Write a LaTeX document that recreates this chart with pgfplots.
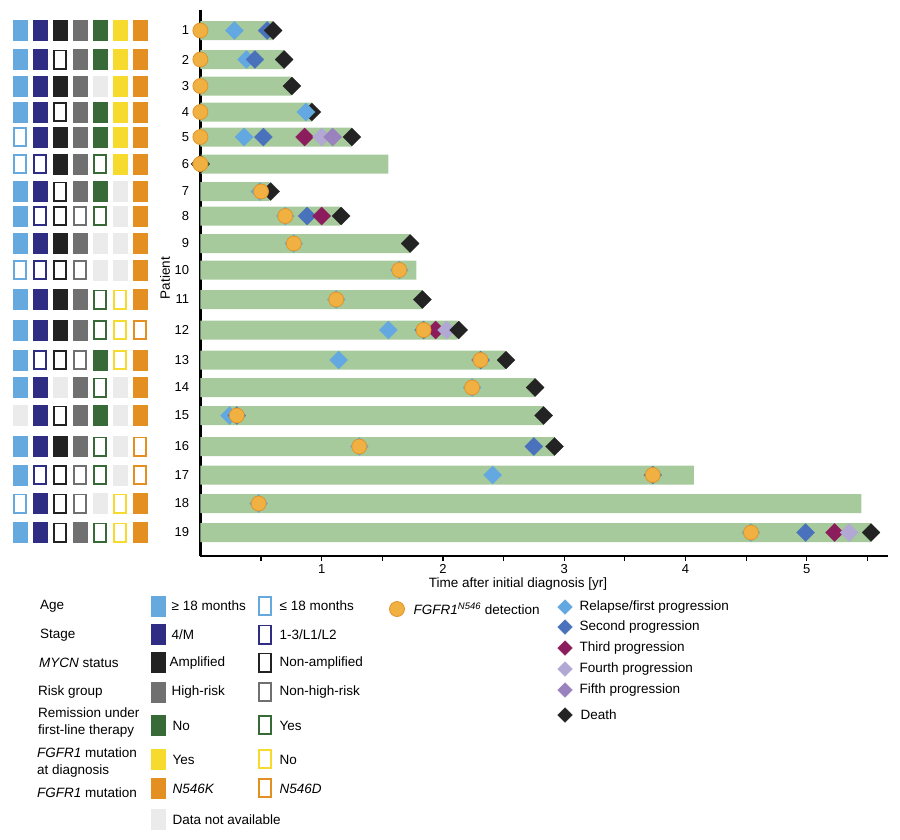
\documentclass[border=0pt]{standalone}
\usepackage{fontspec}
\setmainfont{Liberation Sans}
\usepackage{pgfplots}
\pgfplotsset{compat=1.18}

\definecolor{cAge}{HTML}{66A9DF}
\definecolor{cStage}{HTML}{2E2D83}
\definecolor{cMycn}{HTML}{222222}
\definecolor{cRisk}{HTML}{707070}
\definecolor{cRem}{HTML}{386A37}
\definecolor{cDx}{HTML}{F6DA2E}
\definecolor{cMut}{HTML}{E38F22}
\definecolor{cNA}{HTML}{EBEBEB}
\definecolor{cBar}{HTML}{A6CA9C}
\definecolor{cRel}{HTML}{63A8E0}
\definecolor{cSec}{HTML}{4A72BC}
\definecolor{cThi}{HTML}{8C1D5C}
\definecolor{cFou}{HTML}{B2A8D4}
\definecolor{cFif}{HTML}{9A82BE}
\definecolor{cDea}{HTML}{232323}
\definecolor{cDet}{HTML}{F0B042}
\definecolor{cDetE}{HTML}{E0952A}

\pgfdeclareplotmark{rectF}{\pgfpathrectangle{\pgfqpoint{-7pt}{-10pt}}{\pgfqpoint{14pt}{20pt}}\pgfusepathqfillstroke}
\pgfdeclareplotmark{rectO}{\pgfpathrectangle{\pgfqpoint{-6.2pt}{-9.2pt}}{\pgfqpoint{12.4pt}{18.4pt}}\pgfusepathqfillstroke}
\pgfdeclareplotmark{dia}{\pgfpathmoveto{\pgfqpoint{0pt}{\pgfplotmarksize}}\pgfpathlineto{\pgfqpoint{\pgfplotmarksize}{0pt}}\pgfpathlineto{\pgfqpoint{0pt}{-\pgfplotmarksize}}\pgfpathlineto{\pgfqpoint{-\pgfplotmarksize}{0pt}}\pgfpathclose\pgfusepathqfillstroke}

\pgfplotsset{
  F/.style={only marks, mark=rectF, mark options={fill=#1, draw=#1, line width=0.3pt}},
  O/.style={only marks, mark=rectO, mark options={fill=white, draw=#1, line width=1.6pt}},
  evt/.style={only marks, mark=dia, mark size=9pt, mark options={fill=#1, draw=#1, line width=0.3pt}},
  levt/.style={only marks, mark=dia, mark size=7.3pt, mark options={fill=#1, draw=#1, line width=0.3pt}},
  det/.style={only marks, mark=*, mark size=7.5pt, mark options={fill=cDet, draw=cDetE, line width=0.8pt}},
}

\begin{document}
\fontsize{13.5}{17}\selectfont
\begin{tikzpicture}[font=\fontsize{13.5}{17}\selectfont]
\useasboundingbox (0pt,0pt) rectangle (900pt,-840pt);

% ---------------- main swimmer axis ----------------
\begin{axis}[
  at={(200.4pt,-10pt)}, anchor=north west, scale only axis,
  width=687.6pt, height=546pt,
  xmin=0, xmax=5.67, ymin=10, ymax=556, y dir=reverse, clip=false,
  axis x line*=bottom, axis y line*=left,
  y axis line style={draw=none},
  x axis line style={line width=1.8pt},
  xtick={1,2,3,4,5}, minor xtick={0.5,1.5,2.5,3.5,4.5,5.5},
  tick align=outside, major tick length=5pt, minor tick length=5pt,
  xtick style={line width=1.2pt, black},
  minor tick style={line width=1.2pt, black},
  ytick={30.5,59.5,86,112,137,164,191.5,216,243.5,270,299.5,330,360,387.5,415.5,446.5,475,503.5,532.5},
  yticklabels={1,2,3,4,5,6,7,8,9,10,11,12,13,14,15,16,17,18,19},
  ytick style={draw=none},
  yticklabel style={xshift=-1.5pt},
  xticklabel style={yshift=1.5pt},
  tick label style={font=\fontsize{13}{16}\selectfont},
  /pgf/number format/assume math mode=true,
]
% y axis line (partly hidden by the bars)
\addplot[black, line width=2.4pt] coordinates {(0,10) (0,556)};
% bars: follow-up time
\addplot[xbar, bar width=19pt, fill=cBar, draw=none] coordinates {
 (0.60,30.5) (0.69,59.5) (0.75,86) (0.92,112) (1.25,137) (1.55,164) (0.57,191.5)
 (1.15,216) (1.73,243.5) (1.78,270) (1.83,299.5) (2.12,330) (2.51,360) (2.76,387.5)
 (2.83,415.5) (2.92,446.5) (4.07,475) (5.45,503.5) (5.53,532.5)};
% white diamond (patient 6)
\addplot[only marks, mark=dia, mark size=9pt, mark options={fill=white, draw=black, line width=0.8pt}] coordinates {(0,164)};
% relapse / first progression
\addplot[evt=cRel] coordinates {
 (0.28,30.5) (0.38,59.5) (0.36,137) (0.49,191.5) (0.70,216) (0.77,243.5)
 (1.64,270) (1.12,299.5) (1.55,330) (1.14,360) (2.24,387.5) (0.24,415.5) (1.31,446.5)
 (2.41,475) (0.48,503.5) (4.54,532.5)};
% second progression
\addplot[evt=cSec] coordinates {
 (0.55,30.5) (0.45,59.5) (0.52,137) (0.88,216) (1.84,330) (2.31,360) (0.30,415.5)
 (2.75,446.5) (3.73,475) (4.99,532.5)};
% third progression
\addplot[evt=cThi] coordinates {(0.86,137) (1.00,216) (1.94,330) (5.23,532.5)};
% fourth progression
\addplot[evt=cFou] coordinates {(1.00,137) (2.03,330) (5.35,532.5)};
% fifth progression
\addplot[evt=cFif] coordinates {(1.09,137)};
% death
\addplot[evt=cDea] coordinates {
 (0.60,30.5) (0.69,59.5) (0.755,86) (0.92,112) (1.25,137) (0.58,191.5) (1.16,216)
 (1.73,243.5) (1.83,299.5) (2.13,330) (2.52,360) (2.76,387.5) (2.83,415.5) (2.92,446.5)
 (5.53,532.5)};
% patient 4 relapse drawn over death
\addplot[evt=cRel] coordinates {(0.87,112)};
% FGFR1 N546 detection
\addplot[det] coordinates {
 (0,30.5) (0,59.5) (0,86) (0,112) (0,137) (0,164) (0.50,191.5) (0.70,216) (0.77,243.5)
 (1.64,270) (1.12,299.5) (1.84,330) (2.31,360) (2.24,387.5) (0.30,415.5) (1.31,446.5)
 (3.73,475) (0.48,503.5) (4.54,532.5)};
\end{axis}

% ---------------- characteristics grid and legends ----------------
\begin{axis}[
  at={(0pt,0pt)}, anchor=north west, scale only axis,
  width=900pt, height=840pt,
  xmin=0, xmax=900, ymin=0, ymax=840, y dir=reverse,
  hide axis, clip=false,
]
% Age (x=20)
\addplot[F=cAge] coordinates {(20,30.5) (20,59.5) (20,86) (20,112) (20,191.5) (20,216) (20,243.5) (20,299.5) (20,330) (20,360) (20,387.5) (20,446.5) (20,475) (20,532.5)};
\addplot[O=cAge] coordinates {(20,137) (20,164) (20,270) (20,503.5)};
% Stage (x=40)
\addplot[F=cStage] coordinates {(40,30.5) (40,59.5) (40,86) (40,112) (40,137) (40,191.5) (40,243.5) (40,299.5) (40,330) (40,387.5) (40,415.5) (40,446.5) (40,503.5) (40,532.5)};
\addplot[O=cStage] coordinates {(40,164) (40,216) (40,270) (40,360) (40,475)};
% MYCN (x=60)
\addplot[F=cMycn] coordinates {(60,30.5) (60,86) (60,137) (60,164) (60,243.5) (60,299.5) (60,330) (60,446.5)};
\addplot[O=cMycn] coordinates {(60,59.5) (60,112) (60,191.5) (60,216) (60,270) (60,360) (60,415.5) (60,475) (60,503.5) (60,532.5)};
% Risk (x=80)
\addplot[F=cRisk] coordinates {(80,30.5) (80,59.5) (80,86) (80,112) (80,137) (80,164) (80,191.5) (80,243.5) (80,299.5) (80,330) (80,387.5) (80,415.5) (80,446.5) (80,532.5)};
\addplot[O=cRisk] coordinates {(80,216) (80,270) (80,360) (80,475) (80,503.5)};
% Remission (x=100)
\addplot[F=cRem] coordinates {(100,30.5) (100,59.5) (100,112) (100,137) (100,191.5) (100,360) (100,415.5)};
\addplot[O=cRem] coordinates {(100,164) (100,216) (100,299.5) (100,330) (100,387.5) (100,446.5) (100,475) (100,532.5)};
% FGFR1 at diagnosis (x=120)
\addplot[F=cDx] coordinates {(120,30.5) (120,59.5) (120,86) (120,112) (120,137) (120,164)};
\addplot[O=cDx] coordinates {(120,299.5) (120,330) (120,360) (120,503.5) (120,532.5)};
% FGFR1 mutation (x=140)
\addplot[F=cMut] coordinates {(140,30.5) (140,59.5) (140,86) (140,112) (140,137) (140,164) (140,191.5) (140,216) (140,243.5) (140,270) (140,299.5) (140,360) (140,387.5) (140,415.5) (140,503.5) (140,532.5)};
\addplot[O=cMut] coordinates {(140,330) (140,446.5) (140,475)};
% not available
\addplot[F=cNA] coordinates {(20,415.5) (60,387.5) (100,86) (100,243.5) (100,270) (100,503.5)
 (120,191.5) (120,216) (120,243.5) (120,270) (120,387.5) (120,415.5) (120,446.5) (120,475)};

% axis titles
\node[rotate=90] at (axis cs:165,278) {Patient};
\node at (axis cs:518,584) {Time after initial diagnosis [yr]};

% left legend swatches
\addplot[F=cAge] coordinates {(158,606)};
\addplot[O=cAge] coordinates {(265,606)};
\addplot[F=cStage] coordinates {(158,634.5)};
\addplot[O=cStage] coordinates {(265,634.5)};
\addplot[F=cMycn] coordinates {(158,662.5)};
\addplot[O=cMycn] coordinates {(265,662.5)};
\addplot[F=cRisk] coordinates {(158,692)};
\addplot[O=cRisk] coordinates {(265,692)};
\addplot[F=cRem] coordinates {(158,725)};
\addplot[O=cRem] coordinates {(265,725)};
\addplot[F=cDx] coordinates {(158,759)};
\addplot[O=cDx] coordinates {(265,759)};
\addplot[F=cMut] coordinates {(158,788)};
\addplot[O=cMut] coordinates {(265,788)};
\addplot[F=cNA] coordinates {(158,819)};

\node[anchor=west, inner sep=0pt] at (axis cs:40,606) {Age};
\node[anchor=west, inner sep=0pt] at (axis cs:40,635) {Stage};
\node[anchor=west, inner sep=0pt] at (axis cs:39,663) {\textit{MYCN} status};
\node[anchor=west, inner sep=0pt] at (axis cs:38,692) {Risk group};
\node[anchor=west, align=left, inner sep=0pt] at (axis cs:38,722.5) {Remission under\\first-line therapy};
\node[anchor=west, align=left, inner sep=0pt] at (axis cs:37,762.5) {\textit{FGFR1} mutation\\at diagnosis};
\node[anchor=west, inner sep=0pt] at (axis cs:37,793) {\textit{FGFR1} mutation};

\node[anchor=west] at (axis cs:167,606) {≥ 18 months};
\node[anchor=west] at (axis cs:167,635) {4/M};
\node[anchor=west] at (axis cs:165,663) {Amplified};
\node[anchor=west] at (axis cs:167,692) {High-risk};
\node[anchor=west] at (axis cs:168,726) {No};
\node[anchor=west] at (axis cs:168,760) {Yes};
\node[anchor=west] at (axis cs:168,789) {\textit{N546K}};
\node[anchor=west] at (axis cs:168,820) {Data not available};

\node[anchor=west] at (axis cs:275,606) {≤ 18 months};
\node[anchor=west] at (axis cs:275,635) {1-3/L1/L2};
\node[anchor=west] at (axis cs:275,663) {Non-amplified};
\node[anchor=west] at (axis cs:275,692) {Non-high-risk};
\node[anchor=west] at (axis cs:275,726) {Yes};
\node[anchor=west] at (axis cs:275,760) {No};
\node[anchor=west] at (axis cs:275,789) {\textit{N546D}};

% right legend
\addplot[det] coordinates {(397,609)};
\node[anchor=west] at (axis cs:409,609) {\textit{FGFR1}\textsuperscript{\textit{N546}} detection};
\addplot[levt=cRel] coordinates {(565,607)};
\addplot[levt=cSec] coordinates {(565,627)};
\addplot[levt=cThi] coordinates {(565,648)};
\addplot[levt=cFou] coordinates {(565,669)};
\addplot[levt=cFif] coordinates {(565,690)};
\addplot[levt=cDea] coordinates {(565,715)};
\node[anchor=west] at (axis cs:575,607) {Relapse/first progression};
\node[anchor=west] at (axis cs:575,627) {Second progression};
\node[anchor=west] at (axis cs:575,648) {Third progression};
\node[anchor=west] at (axis cs:575,669) {Fourth progression};
\node[anchor=west] at (axis cs:575,690) {Fifth progression};
\node[anchor=west] at (axis cs:576,715) {Death};
\end{axis}
\end{tikzpicture}
\end{document}
